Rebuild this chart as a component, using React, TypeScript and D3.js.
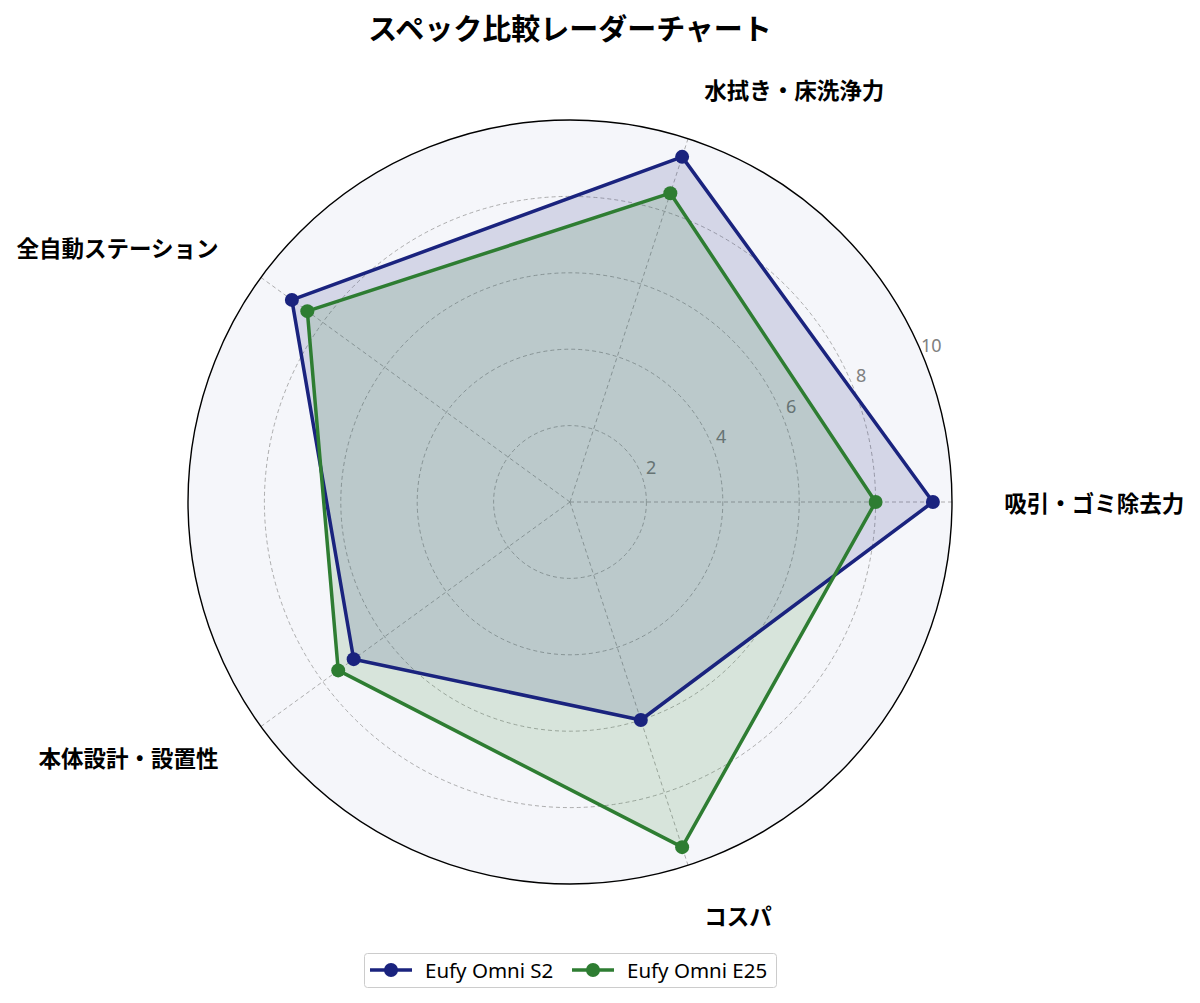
import { useEffect, useRef } from "react";
import * as d3 from "d3";

const categories = ["吸引・ゴミ除去力", "水拭き・床洗浄力", "全自動ステーション", "本体設計・設置性", "コスパ"];
const seriesNames = ["Eufy Omni S2", "Eufy Omni E25"];
const s2Values = [9.5, 9.5, 9.0, 7.0, 6.0];
const e25Values = [8.0, 8.5, 8.5, 7.5, 9.5];
const rTicks = [2, 4, 6, 8, 10];
const colors = ["#1a237e", "#2e7d32"];

const App: React.FC = () => {
  const ref = useRef<SVGSVGElement>(null);

  useEffect(() => {
    if (!ref.current) return;
    const width = 1200;
    const height = 1003;
    const cx = 570;
    const cy = 502;
    const radius = 382;
    const font = "'Noto Sans CJK JP', 'Noto Sans', sans-serif";
    const latin = "'Noto Sans', 'Liberation Sans', sans-serif";

    const svg = d3.select(ref.current);
    svg.selectAll("*").remove();
    svg.attr("width", width).attr("height", height).attr("viewBox", `0 0 ${width} ${height}`);

    svg.append("rect").attr("width", width).attr("height", height).attr("fill", "#ffffff");

    const r = d3.scaleLinear().domain([0, 10]).range([0, radius]);
    const angle = d3
      .scaleLinear()
      .domain([0, categories.length])
      .range([0, 2 * Math.PI]);
    // angle measured counterclockwise from the right
    const px = (i: number, v: number) => cx + r(v) * Math.cos(angle(i));
    const py = (i: number, v: number) => cy - r(v) * Math.sin(angle(i));

    const g = svg.append("g");

    g.append("circle")
      .attr("cx", cx)
      .attr("cy", cy)
      .attr("r", r(10))
      .attr("fill", "#f5f6fa");

    // grid circles
    g.selectAll(".grid")
      .data(rTicks.slice(0, -1))
      .join("circle")
      .attr("cx", cx)
      .attr("cy", cy)
      .attr("r", (d) => r(d))
      .attr("fill", "none")
      .attr("stroke", "#999")
      .attr("stroke-width", 0.8)
      .attr("stroke-dasharray", "4,3");

    // spokes
    g.selectAll(".spoke")
      .data(categories)
      .join("line")
      .attr("x1", cx)
      .attr("y1", cy)
      .attr("x2", (_, i) => px(i, 10))
      .attr("y2", (_, i) => py(i, 10))
      .attr("stroke", "#999")
      .attr("stroke-width", 0.8)
      .attr("stroke-dasharray", "4,3");

    // tick labels
    const labelAngle = (23.5 * Math.PI) / 180;
    g.selectAll(".rtick")
      .data(rTicks)
      .join("text")
      .attr("x", (d) => cx + (r(d) + 12) * Math.cos(labelAngle))
      .attr("y", (d) => cy - (r(d) + 12) * Math.sin(labelAngle))
      .attr("text-anchor", "middle")
      .attr("dominant-baseline", "central")
      .attr("font-family", latin)
      .attr("font-size", 18)
      .attr("fill", "#808080")
      .text((d) => d);

    const allSeries = [s2Values, e25Values];
    const line = d3
      .line<number>()
      .x((v, i) => px(i, v))
      .y((v, i) => py(i, v))
      .curve(d3.curveLinearClosed);

    allSeries.forEach((vals, si) => {
      g.append("path")
        .attr("d", line(vals))
        .attr("fill", colors[si])
        .attr("fill-opacity", 0.15)
        .attr("stroke", "none");
    });

    allSeries.forEach((vals, si) => {
      g.append("path")
        .attr("d", line(vals))
        .attr("fill", "none")
        .attr("stroke", colors[si])
        .attr("stroke-width", 3.5)
        .attr("stroke-linejoin", "round");
      g.selectAll(`.pt${si}`)
        .data(vals)
        .join("circle")
        .attr("cx", (v, i) => px(i, v))
        .attr("cy", (v, i) => py(i, v))
        .attr("r", 7)
        .attr("fill", colors[si]);
    });

    // outer circle
    g.append("circle")
      .attr("cx", cx)
      .attr("cy", cy)
      .attr("r", r(10))
      .attr("fill", "none")
      .attr("stroke", "#000")
      .attr("stroke-width", 1.4);

    // category labels
    g.selectAll(".cat")
      .data(categories)
      .join("text")
      .attr("x", (_, i) => px(i, 11.37))
      .attr("y", (_, i) => py(i, 11.37))
      .attr("text-anchor", (_, i) => {
        const c = Math.cos(angle(i));
        return Math.abs(c) < 1e-6 ? "middle" : c > 0 ? "start" : "end";
      })
      .attr("dominant-baseline", "central")
      .attr("font-family", font)
      .attr("font-size", 22.5)
      .attr("font-weight", "bold")
      .attr("fill", "#000")
      .text((d) => d);

    // title
    svg
      .append("text")
      .attr("x", cx)
      .attr("y", 27)
      .attr("text-anchor", "middle")
      .attr("dominant-baseline", "central")
      .attr("font-family", font)
      .attr("font-size", 29)
      .attr("font-weight", "bold")
      .text("スペック比較レーダーチャート");

    // legend
    const legend = svg.append("g");
    legend
      .append("rect")
      .attr("x", 364.5)
      .attr("y", 953.5)
      .attr("width", 412)
      .attr("height", 34)
      .attr("rx", 3)
      .attr("fill", "#fff")
      .attr("stroke", "#ccc")
      .attr("stroke-width", 1);
    const itemX = [370, 572];
    seriesNames.forEach((name, si) => {
      const x0 = itemX[si];
      legend
        .append("line")
        .attr("x1", x0)
        .attr("x2", x0 + 42)
        .attr("y1", 970)
        .attr("y2", 970)
        .attr("stroke", colors[si])
        .attr("stroke-width", 3.5);
      legend
        .append("circle")
        .attr("cx", x0 + 21)
        .attr("cy", 970)
        .attr("r", 7)
        .attr("fill", colors[si]);
      legend
        .append("text")
        .attr("x", x0 + 55)
        .attr("y", 970)
        .attr("dominant-baseline", "central")
        .attr("font-family", latin)
        .attr("font-size", 20.5)
        .attr("fill", "#000")
        .text(name);
    });
  }, []);

  return <svg ref={ref} style={{ display: "block", margin: "-8px" }}></svg>;
};

export default App;
